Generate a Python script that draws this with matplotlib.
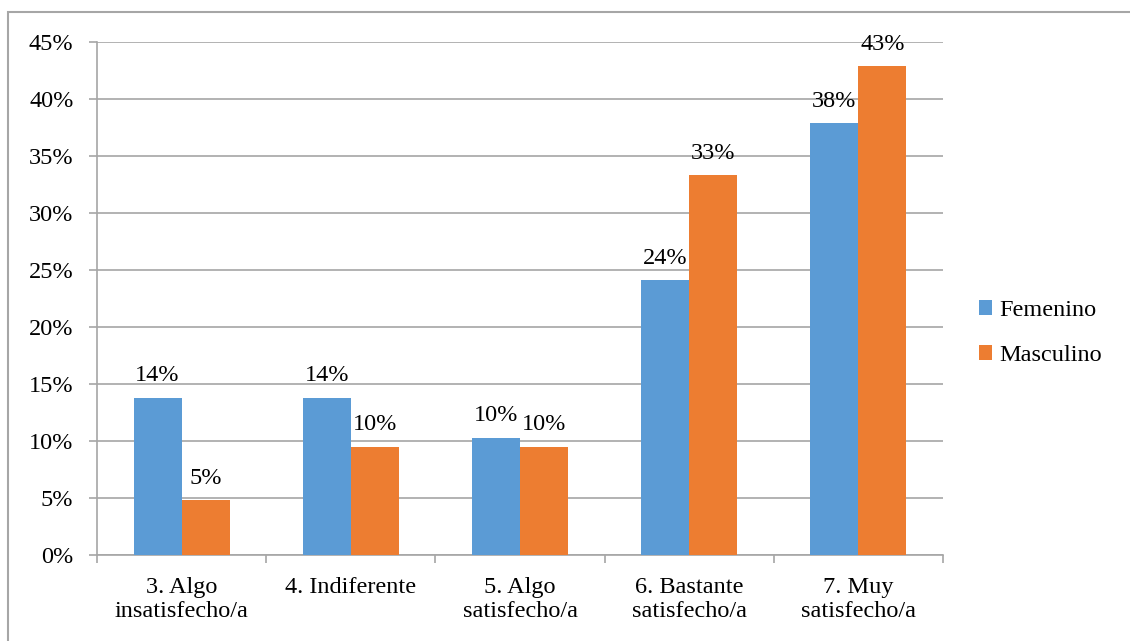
import matplotlib
matplotlib.use("Agg")
import matplotlib.pyplot as plt
import numpy as np
from matplotlib.patches import Rectangle
from matplotlib.ticker import PercentFormatter

categories = ["3. Algo\ninsatisfecho/a", "4. Indiferente", "5. Algo\nsatisfecho/a",
              "6. Bastante\nsatisfecho/a", "7. Muy\nsatisfecho/a"]
femenino = [13.8, 13.8, 10.3, 24.1, 37.9]
masculino = [4.8, 9.5, 9.5, 33.3, 42.9]
series_names = ["Femenino", "Masculino"]
colors = ["#5B9BD5", "#ED7D31"]
yticks = [0, 5, 10, 15, 20, 25, 30, 35, 40, 45]

plt.rcParams["font.family"] = ["Liberation Serif", "DejaVu Serif"]
FS = 17.5

W, H = 1130, 641
fig = plt.figure(figsize=(W / 100, H / 100), dpi=100)

# outer chart frame (runs off the right and bottom edges)
fig.patches.append(Rectangle((8 / W, -0.1), 1.2, 1.1 - 12 / H, transform=fig.transFigure,
                             fill=False, edgecolor="#A6A6A6", linewidth=1.5, zorder=0))

ax = fig.add_axes([97 / W, 1 - 555 / H, (943 - 97) / W, (555 - 42) / H])

x = np.arange(len(categories))
w = 0.284
for i, (vals, name, c) in enumerate(zip([femenino, masculino], series_names, colors)):
    pos = x + (i - 0.5) * w
    bars = ax.bar(pos, vals, width=w, color=c, label=name, zorder=3)
    for b, v in zip(bars, vals):
        ax.text(b.get_x() + b.get_width() / 2, v + 1.0, f"{round(v):.0f}%",
                ha="center", va="bottom", fontsize=FS, color="black", zorder=4)

ax.set_xlim(-0.5, len(categories) - 0.5)
ax.set_ylim(0, 45)
ax.set_yticks(yticks)
ax.yaxis.set_major_formatter(PercentFormatter(decimals=0))
ax.grid(axis="y", color="#A6A6A6", linewidth=1.2, zorder=0)
ax.set_axisbelow(True)

ax.set_xticks(x)
ax.set_xticklabels(categories, fontsize=FS, linespacing=1.15)
ax.set_xticks(np.arange(len(categories) + 1) - 0.5, minor=True)
ax.tick_params(axis="x", which="major", length=0, pad=16)
ax.tick_params(axis="x", which="minor", length=6, color="#A6A6A6", width=1.2)
ax.tick_params(axis="y", length=6, color="#A6A6A6", width=1.2, labelsize=FS, pad=11)

for s in ["top", "right"]:
    ax.spines[s].set_visible(False)
for s in ["left", "bottom"]:
    ax.spines[s].set_color("#A6A6A6")
    ax.spines[s].set_linewidth(1.2)

ax.legend(loc="center left", bbox_to_anchor=(979 / W, 1 - 333 / H),
          bbox_transform=fig.transFigure, frameon=False, fontsize=FS,
          handlelength=0.55, handleheight=0.55, handletextpad=0.3,
          labelspacing=1.0, borderpad=0, borderaxespad=0)

fig.savefig("out.png", dpi=100, facecolor="white")
